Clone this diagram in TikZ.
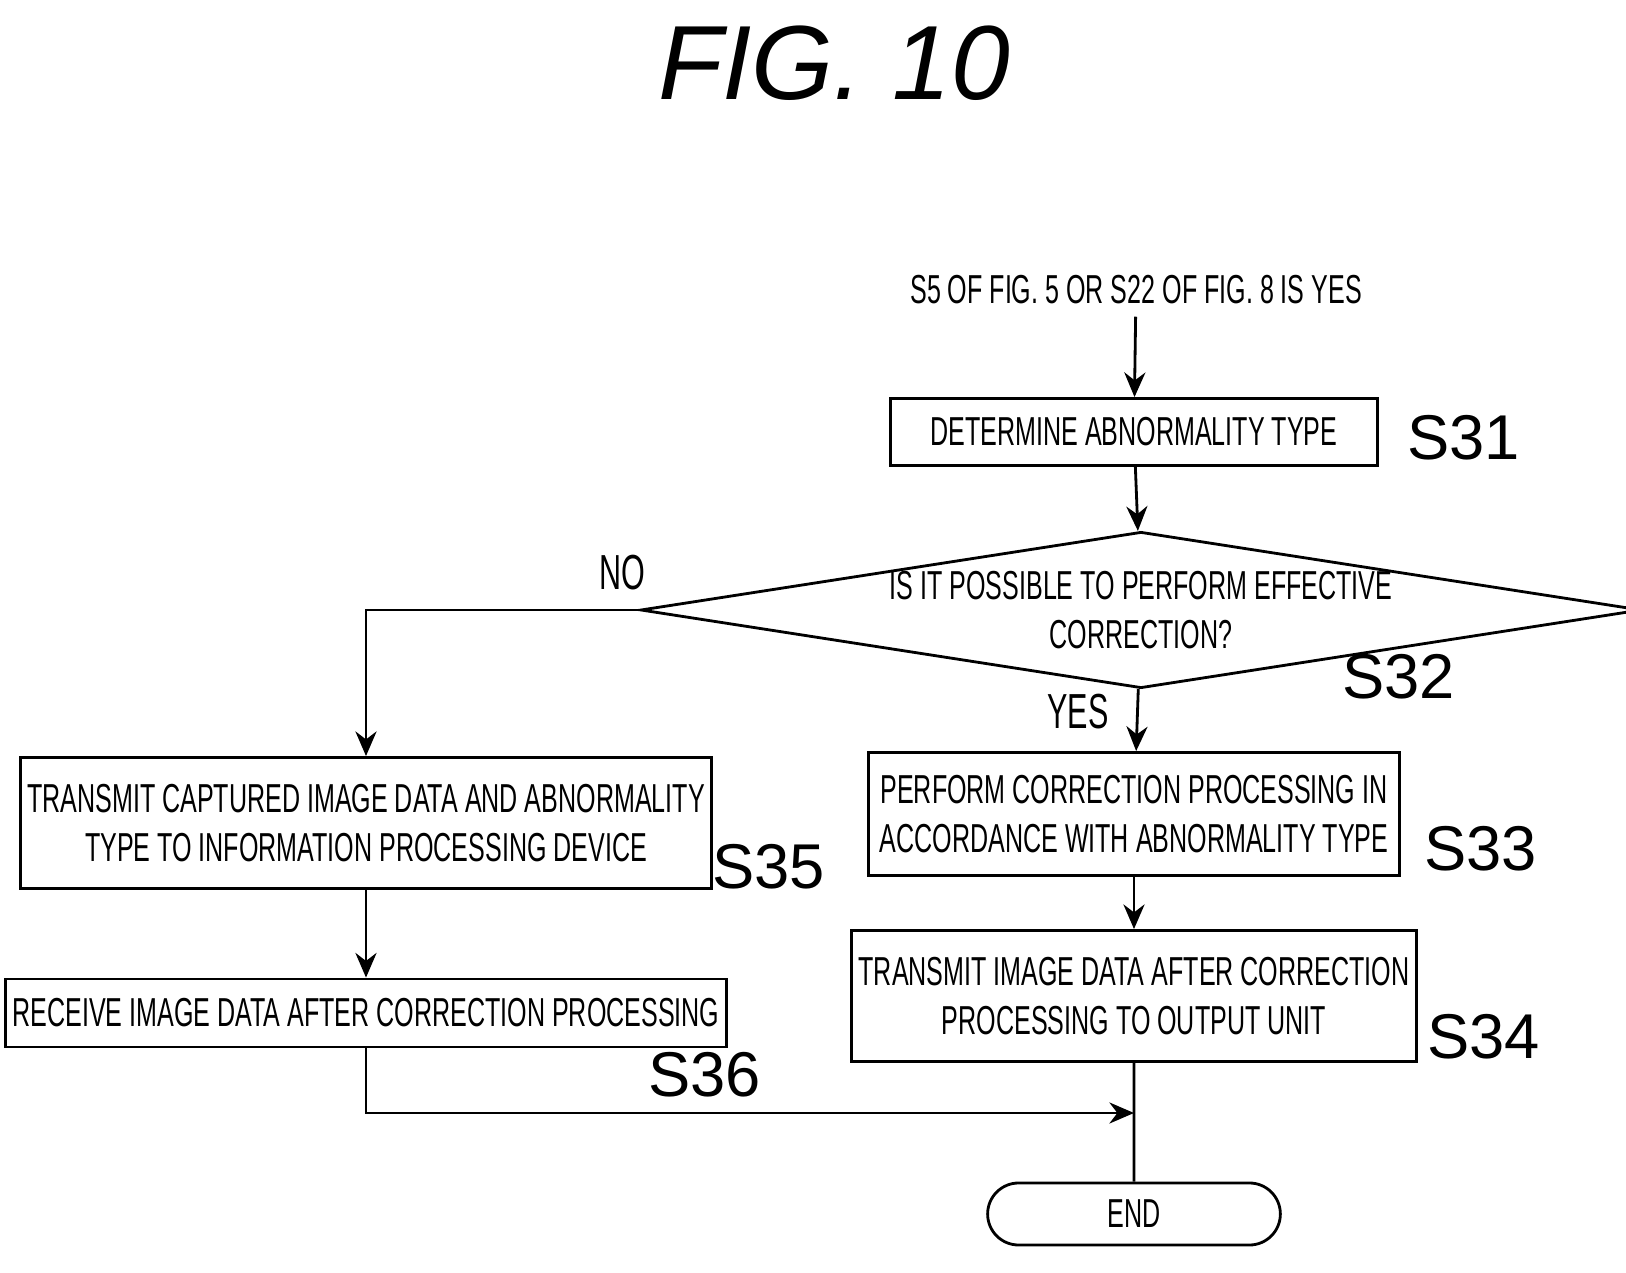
\documentclass[tikz,border=0pt]{standalone}
\usepackage{fontspec}
\setmainfont{Liberation Sans}[FakeStretch=0.62]
\newfontfamily\titlefont{Liberation Sans}
\usetikzlibrary{shapes.geometric, shapes.misc, positioning, arrows.meta}

\begin{document}
\begin{tikzpicture}[x=0.01cm, y=-0.01cm,
    proc/.style={rectangle, draw=black, line width=0.8pt, fill=none,
        text centered, align=center, font=\fontsize{11.5}{14}\selectfont, inner sep=2pt},
    question/.style={diamond, draw=black, line width=0.8pt, fill=none, aspect=6.4,
        align=center, font=\fontsize{11.5}{14}\selectfont, inner sep=0pt},
    term/.style={rounded rectangle, draw=black, line width=0.8pt,
        font=\fontsize{11.5}{14}\selectfont},
    tag/.style={font=\titlefont\fontsize{18}{20}\selectfont, anchor=west},
    answer/.style={font=\fontsize{14}{16}\selectfont},
    flow/.style={-{Stealth[length=7pt, width=6pt]}, line width=0.8pt}
]
\useasboundingbox (0,0) rectangle (1626,1273);
\node (Title) at (834,63) {\titlefont\itshape\fontsize{30}{32}\selectfont FIG. 10};

% main column
\node (Start) at (1136,290) [font=\fontsize{11.5}{14}\selectfont] {S5 OF FIG. 5 OR S22 OF FIG. 8 IS YES};
\node (S31) at (1134,432) [proc, minimum width=4.87cm, minimum height=0.67cm] {DETERMINE ABNORMALITY TYPE};
\node (Q32) at (1141,610) [question, minimum width=9.38cm, minimum height=1.46cm] {IS IT POSSIBLE TO PERFORM EFFECTIVE\\CORRECTION?};
\node (S33) at (1134,814) [proc, minimum width=5.31cm, minimum height=1.23cm] {PERFORM CORRECTION PROCESSING IN\\ACCORDANCE WITH ABNORMALITY TYPE};
\node (S34) at (1134,996) [proc, minimum width=5.31cm, minimum height=1.31cm] {TRANSMIT IMAGE DATA AFTER CORRECTION\\PROCESSING TO OUTPUT UNIT};
\node (End) at (1134,1214) [term, minimum width=3.16cm, minimum height=0.62cm] {END};

% left column
\node (S35) at (366,823) [proc, minimum width=6.44cm, minimum height=1.31cm] {TRANSMIT CAPTURED IMAGE DATA AND ABNORMALITY\\TYPE TO INFORMATION PROCESSING DEVICE};
\node (S36) at (366,1013) [proc, minimum width=6.9cm, minimum height=0.68cm] {RECEIVE IMAGE DATA AFTER CORRECTION PROCESSING};

% step tags
\node [tag] at (1395,438) {S31};
\node [tag] at (1330,677) {S32};
\node [tag] at (1412,849) {S33};
\node [tag] at (1415,1037) {S34};
\node [tag] at (700,867) {S35};
\node [tag] at (636,1075) {S36};
\node [answer] at (1078,712) {YES};
\node [answer] at (622,573) {NO};

\coordinate (Merge) at (1134,1113);

\draw [flow] (Start) -- (S31);
\draw [flow] (S31) -- (Q32);
\draw [flow] (Q32) -- (S33);
\draw [flow] (S33) -- (S34);
\draw [line width=0.8pt] (S34) -- (End);
\draw [flow] (Q32.west) -| (S35.north);
\draw [flow] (S35) -- (S36);
\draw [flow] (S36.south) |- (Merge);
\end{tikzpicture}
\end{document}
